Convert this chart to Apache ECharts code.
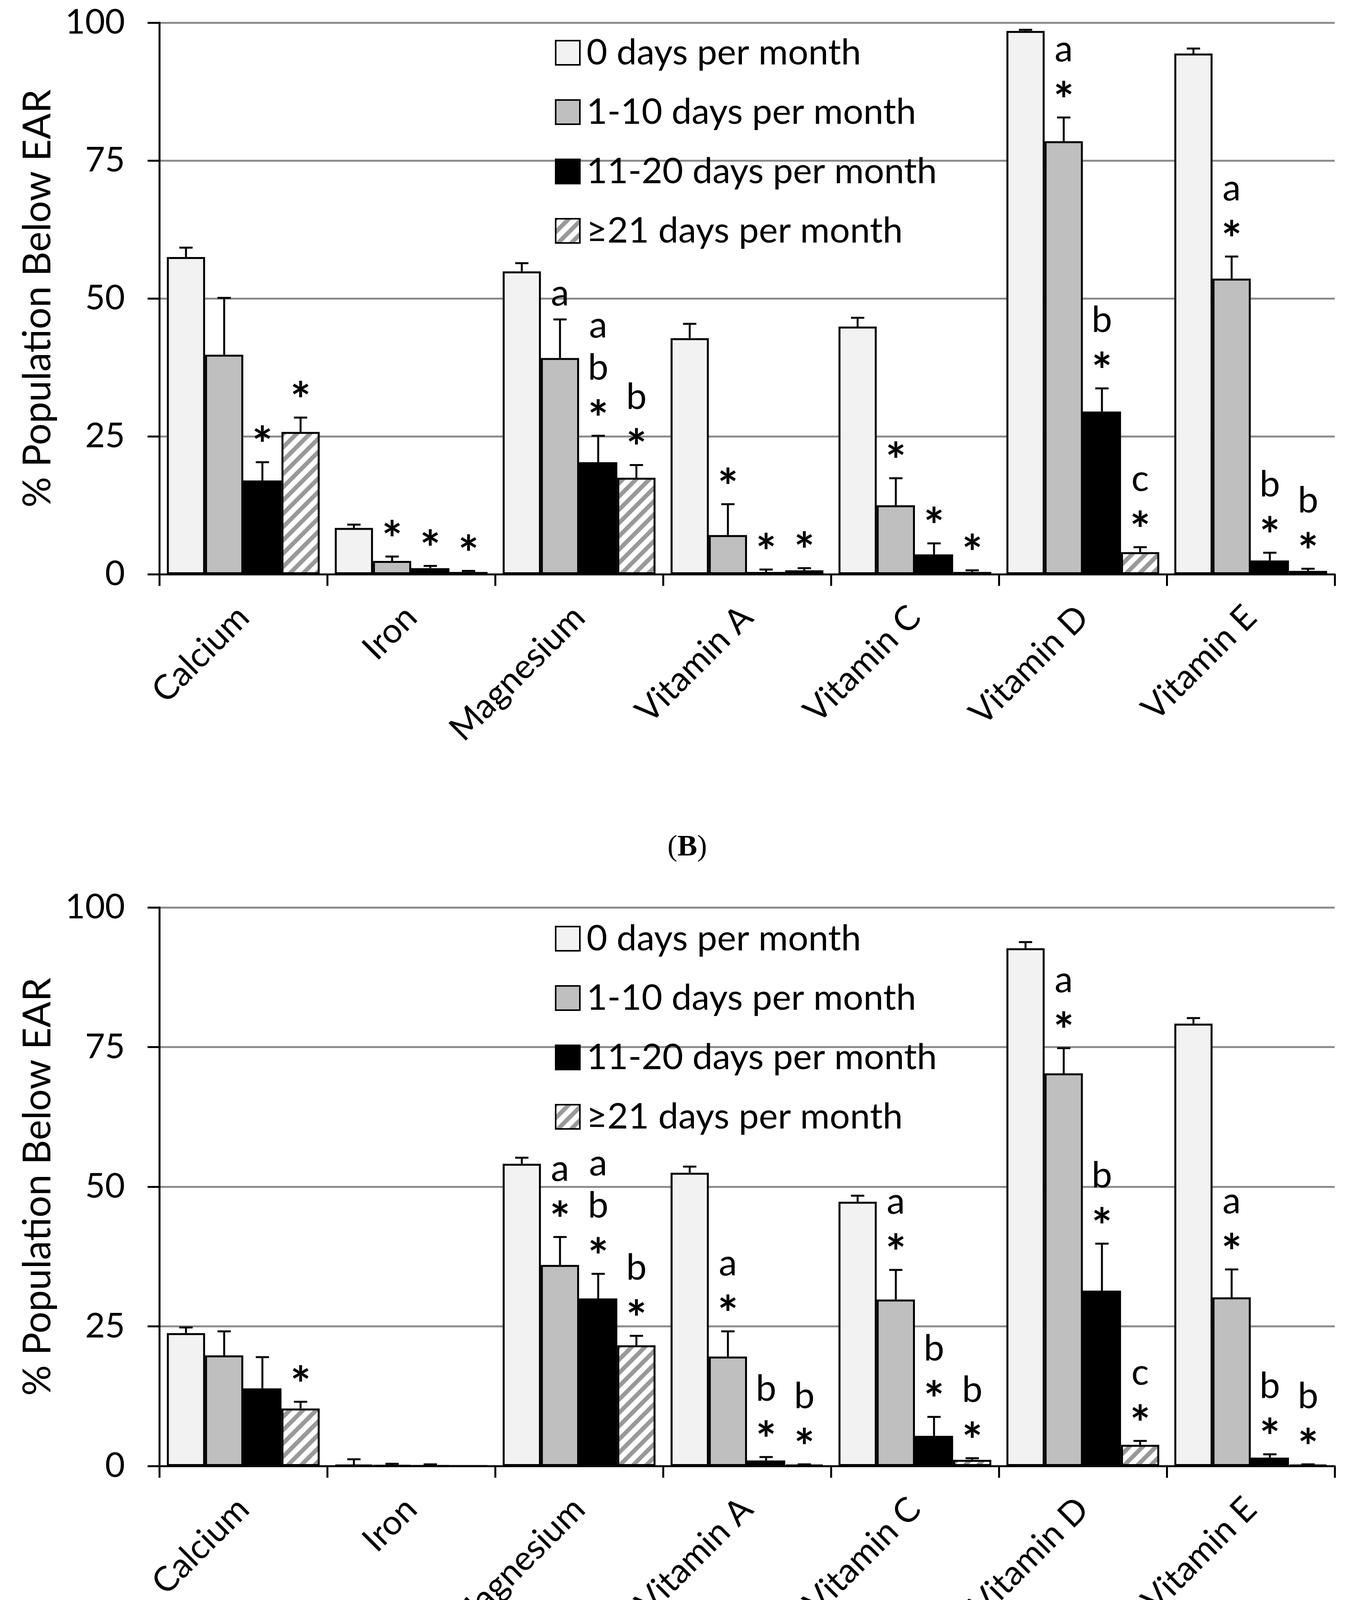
<!DOCTYPE html>
<html>
<head>
<meta charset="utf-8">
<script src="https://cdn.jsdelivr.net/npm/echarts@6/dist/echarts.min.js"></script>
<style>
  html, body { margin: 0; padding: 0; background: #ffffff; }
  #chart { width: 3470px; height: 4539px; }
</style>
</head>
<body>
<div id="chart"></div>
<script>
// categories and legend names
var nutrients = ['Calcium', 'Iron', 'Magnesium', 'Vitamin A', 'Vitamin C', 'Vitamin D', 'Vitamin E'];
var groupNames = ['0 days per month', '1-10 days per month', '11-20 days per month', '\u226521 days per month'];
var yTicks = [0, 25, 50, 75, 100];

// panel B: % below EAR and standard error
var b0 = [57.5, 8.4, 54.9, 42.8, 44.9, 98.5, 94.4];
var b0Err = [1.7, 0.6, 1.5, 2.6, 1.6, 0.2, 0.9];
var b1 = [39.8, 2.4, 39.2, 7.1, 12.5, 78.5, 53.6];
var b1Err = [10.3, 0.8, 7.0, 5.6, 4.9, 4.3, 4.0];
var b2 = [17.0, 1.1, 20.3, 0.4, 3.6, 29.5, 2.5];
var b2Err = [3.3, 0.4, 4.8, 0.45, 2.0, 4.2, 1.4];
var b3 = [25.8, 0.4, 17.5, 0.7, 0.4, 4.0, 0.6];
var b3Err = [2.6, 0.2, 2.3, 0.4, 0.3, 0.9, 0.4];
var bSig0 = ['', '', '', '', '', '', ''];
var bSig1 = ['', '*', 'a', '*', '*', 'a\n*', 'a\n*'];
var bSig2 = ['*', '*', 'a\nb\n*', '*', '*', 'b\n*', 'b\n*'];
var bSig3 = ['*', '*', 'b\n*', '*', '*', 'c\n*', 'b\n*'];

// panel C
var c0 = [23.8, 0.2, 54.1, 52.5, 47.3, 92.7, 79.2];
var c0Err = [1.0, 1.0, 1.1, 1.1, 1.1, 1.1, 1.0];
var c1 = [19.8, 0.1, 36.0, 19.6, 29.8, 70.3, 30.2];
var c1Err = [4.3, 0.3, 5.0, 4.5, 5.3, 4.5, 5.0];
var c2 = [13.9, 0.05, 30.0, 1.0, 5.4, 31.4, 1.5];
var c2Err = [5.6, 0.25, 4.4, 0.6, 3.4, 8.4, 0.6];
var c3 = [10.3, 0, 21.6, 0.2, 1.1, 3.8, 0.2];
var c3Err = [1.2, 0, 1.7, 0.1, 0.3, 0.7, 0.1];
var cSig0 = ['', '', '', '', '', '', ''];
var cSig1 = ['', '', 'a\n*', 'a\n*', 'a\n*', 'a\n*', 'a\n*'];
var cSig2 = ['', '', 'a\nb\n*', 'b\n*', 'b\n*', 'b\n*', 'b\n*'];
var cSig3 = ['*', '', 'b\n*', 'b\n*', 'b\n*', 'c\n*', 'b\n*'];

var FONT = 'Lato';
var CAT_GAP = 0.09;

// diagonal hatch for the last group
function hatch() {
    var P = 34;
    var cv = document.createElement('canvas');
    cv.width = P; cv.height = P;
    var ctx = cv.getContext('2d');
    ctx.fillStyle = '#ffffff';
    ctx.fillRect(0, 0, P, P);
    ctx.strokeStyle = '#999999';
    ctx.lineWidth = 11;
    [0, P, 2 * P].forEach(function (c) {
        ctx.beginPath();
        ctx.moveTo(c - P - 10, P + 10);
        ctx.lineTo(c + 10, -10);
        ctx.stroke();
    });
    return { image: cv, repeat: 'repeat' };
}
var fills = ['#f2f2f2', '#bfbfbf', '#000000', hatch()];

function barSeries(name, values, idx, k) {
    return {
        name: name, type: 'bar', xAxisIndex: idx, yAxisIndex: idx,
        data: values, barGap: '0%', barCategoryGap: (CAT_GAP * 100) + '%',
        itemStyle: { color: fills[k], borderColor: '#000', borderWidth: 5 },
        animation: false
    };
}

function errSeries(values, errs, sigs, idx, k) {
    return {
        name: 'err' + idx + k, type: 'custom', xAxisIndex: idx, yAxisIndex: idx,
        data: values.map(function (v, i) { return [i, v, errs[i]]; }),
        z: 5, animation: false, silent: true,
        renderItem: function (params, api) {
            var ci = api.value(0), v = api.value(1), e = api.value(2);
            var base = api.coord([ci, v]);
            var top = api.coord([ci, v + e]);
            var bw = api.size([1, 0])[0] * (1 - CAT_GAP) / 4;
            var x = base[0] + (k - 1.5) * bw;
            var kids = [];
            if (e > 0) {
                var ls = { stroke: '#000', lineWidth: 5 };
                kids.push({ type: 'line', shape: { x1: x, y1: base[1], x2: x, y2: top[1] }, style: ls });
                kids.push({ type: 'line', shape: { x1: x - 17, y1: top[1], x2: x + 17, y2: top[1] }, style: ls });
            }
            var lines = (sigs[params.dataIndex] || '').split('\n').filter(function (s) { return s; });
            var n = lines.length;
            lines.forEach(function (t, j) {
                var star = t === '*';
                kids.push({
                    type: 'text',
                    x: x, y: top[1] - 66 - (n - 1 - j) * 108 + (star ? 26 : 0),
                    style: {
                        text: t, fill: '#000', align: 'center', verticalAlign: 'middle',
                        font: (star ? 'bold 124px ' : '94px ') + FONT
                    }
                });
            });
            return { type: 'group', children: kids };
        }
    };
}

var grids = [
    { left: 408, right: 52, top: 58, height: 1412 },
    { left: 408, right: 52, top: 2323, height: 1430 }
];

function xAx(idx) {
    return {
        type: 'category', gridIndex: idx, data: nutrients,
        axisLine: { lineStyle: { color: '#000', width: 5 } },
        axisTick: { show: true, interval: 0, length: 30, lineStyle: { color: '#000', width: 5 } },
        axisLabel: { rotate: 45, margin: 96, interval: 0, fontSize: 88, fontFamily: FONT, color: '#000' }
    };
}
function yAx(idx) {
    return {
        type: 'value', gridIndex: idx, min: yTicks[0], max: yTicks[yTicks.length - 1], interval: 25,
        name: '% Population Below EAR', nameLocation: 'middle', nameGap: 262,
        nameTextStyle: { fontSize: 98, fontFamily: FONT, color: '#000' },
        axisLine: { show: true, lineStyle: { color: '#000', width: 5 } },
        axisTick: { show: true, length: 30, lineStyle: { color: '#000', width: 5 } },
        axisLabel: { margin: 88, fontSize: 88, fontFamily: FONT, color: '#000' },
        splitLine: { lineStyle: { color: '#8c8c8c', width: 5 } }
    };
}
function legendAt(top) {
    return {
        data: groupNames, orient: 'vertical', left: 1416, top: top,
        itemWidth: 62, itemHeight: 62, itemGap: 60, icon: 'rect', selectedMode: false,
        itemStyle: { borderColor: '#000', borderWidth: 4 },
        textStyle: { fontSize: 92, fontFamily: FONT, color: '#000', padding: [0, 0, 0, 12] }
    };
}

var chart = echarts.init(document.getElementById('chart'), null, { renderer: 'canvas' });

var panels = [
    { vals: [b0, b1, b2, b3], errs: [b0Err, b1Err, b2Err, b3Err], sigs: [bSig0, bSig1, bSig2, bSig3] },
    { vals: [c0, c1, c2, c3], errs: [c0Err, c1Err, c2Err, c3Err], sigs: [cSig0, cSig1, cSig2, cSig3] }
];
var series = [];
panels.forEach(function (p, idx) {
    groupNames.forEach(function (name, k) {
        series.push(barSeries(name, p.vals[k], idx, k));
    });
    groupNames.forEach(function (name, k) {
        series.push(errSeries(p.vals[k], p.errs[k], p.sigs[k], idx, k));
    });
});

function caption(letter, y) {
    return {
        type: 'text', x: 1760, y: y,
        style: {
            text: '{n|(}{b|' + letter + '}{n|)}', align: 'center', verticalAlign: 'middle',
            rich: {
                n: { fontSize: 76, fontFamily: 'Liberation Serif', fill: '#000' },
                b: { fontSize: 76, fontFamily: 'Liberation Serif', fontWeight: 'bold', fill: '#000' }
            }
        }
    };
}

var option = {
    backgroundColor: '#ffffff',
    animation: false,
    grid: grids,
    xAxis: [xAx(0), xAx(1)],
    yAxis: [yAx(0), yAx(1)],
    legend: [legendAt(84), legendAt(2352)],
    graphic: [caption('B', 2170), caption('C', 4462)],
    series: series
};
chart.setOption(option);
</script>
</body>
</html>
